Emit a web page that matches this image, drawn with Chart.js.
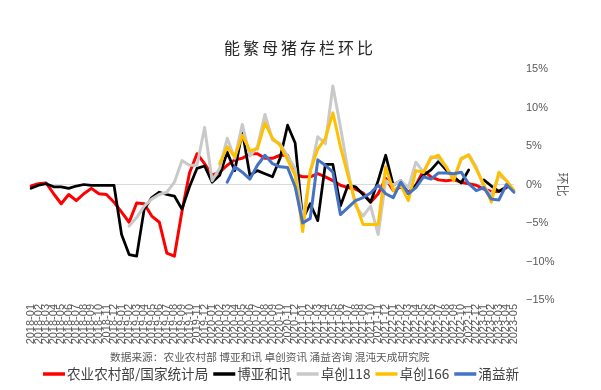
<!DOCTYPE html>
<html><head><meta charset="utf-8">
<script src="https://cdn.jsdelivr.net/npm/chart.js@4"></script>
<style>html,body{margin:0;padding:0;background:#fff}#wrap{width:601px;height:390px;position:relative}</style>
</head><body><div id="wrap"><canvas id="c"></canvas></div>
<script>
const titleText = '能繁母猪存栏环比';
const sourceText = '数据来源：农业农村部 博亚和讯 卓创资讯 涌益咨询 混沌天成研究院';
const axisTitle = '环比';
const labels = [
 '2018-01','2018-02','2018-03','2018-04','2018-05','2018-06','2018-07','2018-08','2018-09','2018-10','2018-11','2018-12',
 '2019-01','2019-02','2019-03','2019-04','2019-05','2019-06','2019-07','2019-08','2019-09','2019-10','2019-11','2019-12',
 '2020-01','2020-02','2020-03','2020-04','2020-05','2020-06','2020-07','2020-08','2020-09','2020-10','2020-11','2020-12',
 '2021-01','2021-02','2021-03','2021-04','2021-05','2021-06','2021-07','2021-08','2021-09','2021-10','2021-11','2021-12',
 '2022-01','2022-02','2022-03','2022-04','2022-05','2022-06','2022-07','2022-08','2022-09','2022-10','2022-11','2022-12',
 '2023-01','2023-02','2023-03','2023-04','2023-05'];
const yTicks = [-15, -10, -5, 0, 5, 10, 15];

const nameRed = '农业农村部/国家统计局';
const nameBlack = '博亚和讯';
const nameGray = '卓创118';
const nameYellow = '卓创166';
const nameBlue = '涌益新';

const redVals = [-0.2,0.1,0.2,-1.2,-2.5,-1.3,-2.1,-1.2,-0.5,-1.2,
 -1.3,-2.3,-3.6,-4.9,-2.4,-2.5,-4.1,-4.9,-8.9,-9.3,
 -3.5,1.5,4.0,2.7,1.2,1.6,2.5,3.2,3.4,4.0,
 4.0,3.4,3.4,3.8,3.8,1.3,1.0,1.0,1.4,1.0,
 0.5,-0.1,-0.4,-0.6,-1.1,-2.3,-1.2,0.8,-0.8,-0.3,
 -1.0,-0.1,1.8,1.0,0.6,0.5,0.6,0.3,0.1,-0.1,
 -0.6,-0.9,-0.9,-0.4,null];
const blackVals = [-0.5,-0.1,0.1,-0.3,-0.3,-0.5,-0.2,0.0,-0.1,-0.1,
 -0.1,-0.1,-6.5,-9.1,-9.3,-3.2,-1.7,-1.0,-1.3,-1.5,
 -3.2,-0.3,2.1,2.4,0.3,1.2,4.2,1.8,6.9,1.2,
 1.8,1.4,1.0,3.4,7.7,5.4,-4.5,-2.5,-4.7,2.6,
 2.6,-2.8,-0.1,-0.3,-1.3,-2.3,0.5,3.8,-0.1,0.5,
 -1.2,-0.1,1.2,1.9,3.0,1.9,1.0,0.2,1.9,null,
 0.6,-0.2,-0.9,-0.3,null];
const grayVals = [null,null,null,null,null,null,null,null,null,null,
 null,null,null,-5.4,-4.3,-2.8,-1.9,-1.3,-1.0,0.3,
 3.1,2.5,2.5,7.4,0.5,2.1,6.0,3.4,7.8,3.7,
 4.9,9.1,5.8,5.3,3.7,2.1,-4.7,1.5,6.2,5.3,
 12.8,7.5,1.8,-2.8,-4.1,-2.8,-6.5,0.5,-0.1,0.5,
 -0.4,2.9,1.6,3.6,3.4,2.3,0.8,3.2,3.9,2.3,
 -0.4,-1.4,1.2,0.5,-0.8];
const yellowVals = [null,null,null,null,null,null,null,null,null,null,
 null,null,null,null,null,null,null,null,null,null,
 null,null,null,null,null,2.7,4.9,3.6,6.4,4.4,
 4.6,8.0,6.0,5.1,3.2,1.2,-6.1,1.8,4.6,6.0,
 9.3,4.9,1.2,-2.4,-5.2,-5.2,-5.2,2.3,-0.8,-0.1,
 -2.1,1.8,1.6,3.4,3.8,2.3,0.5,3.4,3.8,2.0,
 0.0,-2.3,1.6,0.5,-0.8];
const blueVals = [null,null,null,null,null,null,null,null,null,null,
 null,null,null,null,null,null,null,null,null,null,
 null,null,null,null,null,null,0.3,2.3,1.6,0.7,
 2.5,3.8,2.7,2.3,2.2,-0.3,-5.0,-4.4,3.2,2.5,
 1.6,-3.9,-3.0,-2.1,-1.7,-1.1,-0.1,-1.2,-1.7,0.3,
 -1.2,-0.4,1.0,0.7,1.5,1.5,1.4,1.6,0.1,-0.8,
 -0.4,-1.9,-2.0,0.0,-1.0];

function ds(label, data, color, order, w){
  return {label, data, borderColor: color, backgroundColor: color, borderWidth: w,
    pointRadius: 0, tension: 0, spanGaps: false, order,
    borderJoinStyle: 'round', borderCapStyle: 'round', fill: false};
}

const decor = {
  id: 'decor',
  afterDraw(chart){
    const ctx = chart.ctx;
    ctx.save();
    ctx.textBaseline = 'middle';
    ctx.font = '16px "Noto Sans CJK SC"';
    ctx.fillStyle = '#262626';
    ctx.textAlign = 'center';
    ctx.letterSpacing = '3px';
    ctx.fillText(titleText, 300, 48);
    ctx.letterSpacing = '0px';
    ctx.font = '10.7px "Noto Sans CJK SC"';
    ctx.fillStyle = '#595959';
    ctx.textAlign = 'left';
    ctx.fillText(sourceText, 110, 357);
    ctx.font = '13.6px "Noto Sans CJK SC"';
    let x = 43; const y = 374;
    chart.data.datasets.forEach(d => {
      ctx.strokeStyle = d.borderColor; ctx.lineWidth = 3.5; ctx.lineCap = 'butt';
      ctx.beginPath(); ctx.moveTo(x, y); ctx.lineTo(x + 22, y); ctx.stroke();
      x += 24;
      ctx.fillStyle = '#404040';
      ctx.fillText(d.label, x, y);
      x += ctx.measureText(d.label).width + 5;
    });
    ctx.restore();
  }
};

new Chart(document.getElementById('c'), {
  type: 'line',
  data: {labels, datasets: [
    ds(nameRed, redVals, '#FF0000', 5, 3),
    ds(nameBlack, blackVals, '#000000', 4, 2.75),
    ds(nameGray, grayVals, '#C9C9C9', 3, 3),
    ds(nameYellow, yellowVals, '#FFC000', 2, 3),
    ds(nameBlue, blueVals, '#4472C4', 1, 3)
  ]},
  options: {
    responsive: true, maintainAspectRatio: false, animation: false, devicePixelRatio: 1,
    layout: {padding: {left: 31, top: 69, right: 0, bottom: 0}},
    plugins: {legend: {display: false}, title: {display: false}, tooltip: {enabled: false}},
    scales: {
      x: {
        grid: {display: false, drawTicks: false}, border: {display: false},
        ticks: {autoSkip: false, maxRotation: 90, minRotation: 90, padding: 4,
          font: {family: 'Liberation Sans', size: 11}, color: '#595959'},
        afterFit(s){ s.height = 90; }
      },
      y: {
        position: 'right', min: yTicks[0], max: yTicks[yTicks.length - 1],
        afterBuildTicks(s){ s.ticks = yTicks.map(v => ({value: v})); },
        ticks: {padding: 12, callback: v => (v < 0 ? '\u2212' + (-v) : v) + '%',
          font: {family: 'Liberation Sans', size: 11}, color: '#595959'},
        grid: {drawTicks: false, lineWidth: 1,
          color: c => (c.tick && c.tick.value === 0) ? '#D9D9D9' : 'rgba(0,0,0,0)'},
        border: {display: false},
        title: {display: true, text: axisTitle, color: '#595959',
          font: {family: 'Noto Sans CJK SC', size: 12}, padding: {top: 31, bottom: 0}},
        afterFit(s){ s.width = 87; }
      }
    }
  },
  plugins: [decor]
});
</script></body></html>
